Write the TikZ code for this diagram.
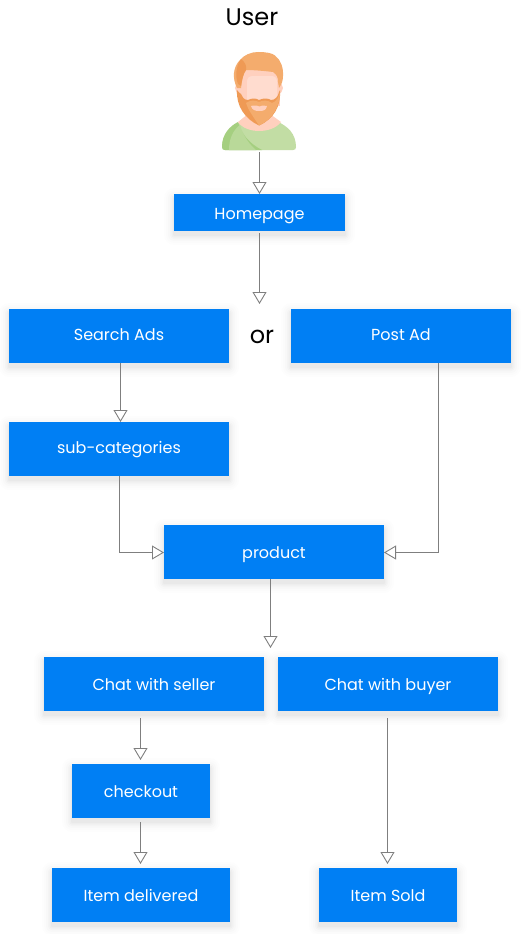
\documentclass[tikz,border=0pt]{standalone}
\usepackage{fontspec}
\setmainfont{Poppins}
\usetikzlibrary{arrows.meta,calc}
\definecolor{boxblue}{HTML}{007FF4}
\definecolor{linegray}{HTML}{7F7F7F}
\definecolor{hairA}{HTML}{F4AC6D}
\definecolor{hairB}{HTML}{EF9A55}
\definecolor{skinA}{HTML}{FFD0BE}
\definecolor{skinB}{HTML}{FFDCCF}
\definecolor{shirtA}{HTML}{C2DDA4}
\definecolor{shirtB}{HTML}{A5CF80}
\tikzset{
  x=1pt,y=-1pt,
  lbl/.style={text=white,font=\fontsize{16}{19}\selectfont,inner sep=0pt,text height=11.5pt,text depth=3.5pt,align=center},
  plain/.style={font=\fontsize{24}{28}\selectfont,text=black,inner sep=0pt},
  conn/.style={draw=linegray,line width=0.9pt,-{Triangle[open,fill=white,length=12pt,width=14pt,line width=0.9pt]}},
}
\newcommand{\bx}[7]{% name x0 y0 x1 y1 text-dy text
  \foreach \s/\o in {10/0.006,8/0.008,6/0.011,4/0.014,2.5/0.018,1/0.022}{
    \fill[black,opacity=\o,rounded corners=\s pt] (#2-\s,#3+4-\s) rectangle (#4+\s,#5+4+\s);
  }
  \fill[boxblue] (#2,#3) rectangle (#4,#5);
  \node[lbl] (#1) at ({(#2+#4)/2},{(#3+#5)/2+#6}) {#7};
}
\begin{document}
\begin{tikzpicture}
\useasboundingbox (0,0) rectangle (520,934);
\fill[white] (0,0) rectangle (520,934);
\node[plain] (user) at (252,17) {User};
\node[plain] (or) at (262,337) {or};
% user icon: shirt
\fill[shirtA] (222,147) .. controls (222,134) and (230,126) .. (242,121) -- (276,121) .. controls (288,126) and (296,134) .. (296,147) .. controls (296,149) and (295,150) .. (293,150) -- (225,150) .. controls (223,150) and (222,149) .. (222,147) -- cycle;
\fill[shirtB] (222,147) .. controls (222,134) and (230,126) .. (238,122) .. controls (241,134) and (250,144) .. (262,150) -- (225,150) .. controls (223,150) and (222,149) .. (222,147) -- cycle;
\fill[shirtA!70!shirtB] (229,150) .. controls (229,139) and (233,130) .. (240,125) .. controls (243,136) and (250,145) .. (256,150) -- cycle;
% neck
\fill[skinA] (238,122) -- (248,114) -- (270,114) -- (281,122) .. controls (272,134) and (246,134) .. (238,122) -- cycle;
% ears
\fill[skinA] (241,82) .. controls (233,82) and (233,94) .. (241,94) -- cycle;
\fill[skinA] (277,82) .. controls (285,82) and (285,94) .. (277,94) -- cycle;
% face
\fill[skinA] (240,66) -- (280,66) -- (280,106) -- (240,106) -- cycle;
\fill[skinB] (247,82) .. controls (247,78) and (249,76) .. (253,76) -- (271,76) .. controls (275,76) and (277,78) .. (277,82) -- (277,100) -- (247,100) -- cycle;
% beard
\fill[hairB] (237,90) .. controls (238,92) and (240,93) .. (241,94) .. controls (242,97) and (244,100) .. (248,100) .. controls (252,98) and (256,98) .. (259,100) .. controls (263,98) and (268,98) .. (271,100) .. controls (275,100) and (278,97) .. (279,92) -- (280,90) .. controls (281,106) and (274,119) .. (259,125.5) .. controls (245,119) and (236,106) .. (237,90) -- cycle;
\fill[hairA] (246,103) .. controls (250,100) and (255,100) .. (259,102) .. controls (263,100) and (268,100) .. (272,103) .. controls (276,102) and (279,97) .. (280,92) .. controls (280,106) and (273,119) .. (259,125.5) .. controls (253,116) and (248,110) .. (246,103) -- cycle;
\fill[skinA] (251,106) .. controls (255,105) and (258,105.5) .. (259.5,106.5) .. controls (261,105.5) and (264,105) .. (267,106) .. controls (266,110) and (264,111) .. (259,111) .. controls (255,111) and (252,110) .. (251,106) -- cycle;
% hair
\fill[hairA] (258,52) .. controls (266,52) and (272,53) .. (275,55.5) .. controls (281,60) and (283.5,68) .. (283,76) .. controls (283,80) and (282,84) .. (279,88) -- (278,82) .. controls (278,77) and (277,75) .. (273,72) .. controls (265,71) and (254,70) .. (246,70) .. controls (243,74) and (242,80) .. (241,88) -- (237,88) .. controls (232,78) and (233,67) .. (240,60) .. controls (244,55) and (251,52) .. (258,52) -- cycle;
\fill[hairB] (241,59) .. controls (245,62) and (247,66) .. (246,70) .. controls (243,74) and (242,80) .. (241,86) -- (238,84) .. controls (235,76) and (236,66) .. (241,59) -- cycle;
% boxes
\bx{home}{174}{194}{345}{231}{2.5}{Homepage}
\bx{search}{9}{309}{229}{363}{0}{Search Ads}
\bx{post}{291}{309}{511}{363}{0}{Post Ad}
\bx{sub}{9}{422}{229}{476}{0}{sub-categories}
\bx{prod}{164}{525}{384}{579}{2}{product}
\bx{seller}{44}{657}{264}{711}{2}{Chat with seller}
\bx{buyer}{278}{657}{498}{711}{2}{Chat with buyer}
\bx{check}{72}{764}{210}{818}{2}{checkout}
\bx{deliv}{52}{868}{230}{922}{2}{Item delivered}
\bx{sold}{319}{868}{457}{922}{2}{Item Sold}
% free ends
\coordinate (iconfoot) at (259.5,152);
\coordinate (homefoot) at (259.5,233);
\coordinate (ortip) at (259.5,304);
\coordinate (homein) at (259.5,194);
\coordinate (searchfoot) at (120.5,363);
\coordinate (subin) at (120.5,422);
\coordinate (subfoot) at (119.5,476);
\coordinate (postfoot) at (438.5,363);
\coordinate (prodfoot) at (270.5,579);
\coordinate (chatin) at (270.5,648);
\coordinate (sellerfoot) at (140.5,718);
\coordinate (checkin) at (140.5,760);
\coordinate (checkfoot) at (140.5,822);
\coordinate (delivin) at (140.5,864);
\coordinate (buyerfoot) at (387.5,718);
\coordinate (soldin) at (387.5,864);
\coordinate (prodl) at (164,552.5);
\coordinate (prodr) at (384,552.5);
% connectors
\draw[conn] (iconfoot) -- (homein);
\draw[conn] (homefoot) -- (ortip);
\draw[conn] (searchfoot) -- (subin);
\draw[conn] (subfoot) |- (prodl);
\draw[conn] (postfoot) |- (prodr);
\draw[conn] (prodfoot) -- (chatin);
\draw[conn] (sellerfoot) -- (checkin);
\draw[conn] (checkfoot) -- (delivin);
\draw[conn] (buyerfoot) -- (soldin);
\end{tikzpicture}
\end{document}
